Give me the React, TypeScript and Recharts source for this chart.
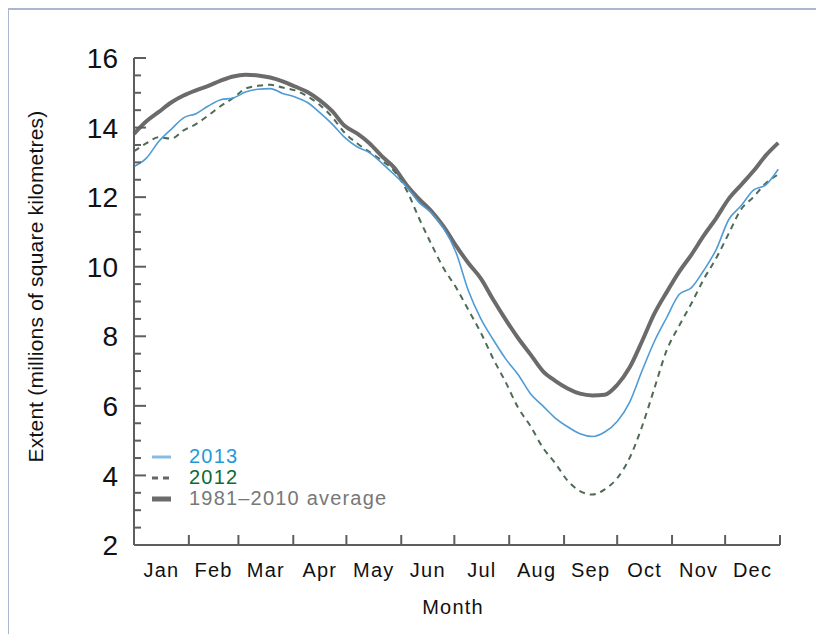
import React from 'react';
import { LineChart, Line, XAxis, YAxis, Legend, Label } from 'recharts';

const DAYS = [0, 7, 14, 21, 28, 35, 42, 49, 56, 63, 70, 77, 84, 91, 98, 105, 112, 119, 126, 133, 140, 147, 154, 161, 168, 175, 182, 189, 196, 203, 210, 217, 224, 231, 238, 245, 252, 259, 266, 273, 280, 287, 294, 301, 308, 315, 322, 329, 336, 343, 350, 357, 364];

const EXTENT_2013 = [
  12.88, 13.12, 13.6, 13.95, 14.28, 14.4, 14.62, 14.8, 14.85, 15.02,
  15.1, 15.12, 14.98, 14.88, 14.72, 14.43, 14.1, 13.72, 13.45, 13.28,
  12.98, 12.65, 12.3, 11.85, 11.55, 11.1, 10.4, 9.3, 8.5, 7.9,
  7.35, 6.9, 6.35, 6.0, 5.65, 5.4, 5.2, 5.12, 5.25, 5.55,
  6.1, 7.0, 7.85, 8.54, 9.2, 9.4, 9.9, 10.5, 11.35, 11.75,
  12.2, 12.35, 12.8,
];

const EXTENT_2012 = [
  13.32, 13.55, 13.72, 13.68, 13.92, 14.1, 14.35, 14.62, 14.85, 15.12,
  15.2, 15.23, 15.15, 15.07, 14.9, 14.65, 14.3, 13.85, 13.55, 13.3,
  13.05, 12.75, 12.2, 11.4, 10.65, 9.95, 9.4, 8.75, 8.1, 7.35,
  6.68, 5.95, 5.42, 4.8, 4.35, 3.85, 3.55, 3.45, 3.6, 3.92,
  4.5, 5.4, 6.5, 7.6, 8.3, 8.95, 9.65, 10.25, 10.95, 11.65,
  12.0, 12.4, 12.65,
];

const EXTENT_AVG = [
  13.82, 14.18, 14.45, 14.72, 14.92, 15.07, 15.2, 15.35, 15.47, 15.52,
  15.5, 15.44, 15.33, 15.18, 15.02, 14.78, 14.47, 14.05, 13.83, 13.55,
  13.18, 12.85, 12.35, 11.95, 11.6, 11.15, 10.6, 10.1, 9.66, 9.05,
  8.48, 7.95, 7.48, 7.0, 6.72, 6.5, 6.35, 6.3, 6.32, 6.6,
  7.1, 7.85, 8.65, 9.27, 9.85, 10.35, 10.9, 11.4, 11.95, 12.35,
  12.75, 13.2, 13.56,
];

const MONTHS = ['Jan', 'Feb', 'Mar', 'Apr', 'May', 'Jun', 'Jul', 'Aug', 'Sep', 'Oct', 'Nov', 'Dec'];
const MONTH_MID_DAYS = [15.5, 45, 74.5, 105, 135.5, 166, 196.5, 227.5, 258, 288.5, 319, 349.5];
const MONTH_START_DAYS = [0, 31, 59, 90, 120, 151, 181, 212, 243, 273, 304, 334, 365];

const Y_MAJOR = [2, 4, 6, 8, 10, 12, 14, 16];
const Y_MINOR = [2, 2.5, 3, 3.5, 4, 4.5, 5, 5.5, 6, 6.5, 7, 7.5, 8, 8.5, 9, 9.5, 10, 10.5, 11, 11.5, 12, 12.5, 13, 13.5, 14, 14.5, 15, 15.5, 16];

const SERIES_KEYS = ['y2013', 'y2012', 'avg'];
const SERIES_NAMES = ['2013', '2012', '1981–2010 average'];
const SERIES_COLORS = ['#4f9bd6', '#4d6b55', '#6b6b6b'];
const SERIES_WIDTHS = [1.6, 2, 4];
const SERIES_DASH = ['', '6 5', ''];
const LEGEND_TEXT_COLORS = ['#1f9ad7', '#0b6b34', '#777777'];
const LEGEND_SAMPLE_COLORS = ['#86bbe3', '#666666', '#6b6b6b'];
const LEGEND_SAMPLE_WIDTHS = [3, 3, 5];
const LEGEND_SAMPLE_DASH = ['', '6 5', ''];
const DRAW_ORDER = [2, 1, 0];

const data = DAYS.map((d, i) => ({
  day: d,
  y2013: EXTENT_2013[i],
  y2012: EXTENT_2012[i],
  avg: EXTENT_AVG[i],
}));

const FONT = '"Liberation Sans", Arial, Helvetica, sans-serif';
const AXIS_COLOR = '#5e5e5e';
const Y_TITLE = 'Extent (millions of square kilometres)';
const Y_TICK_MARGIN = 16;
const blankTick = () => '';

const YTick = (props: any) => {
  const { x, y, payload } = props;
  const v = payload.value;
  const isMajor = Y_MAJOR.indexOf(v) >= 0;
  const ax = x + Y_TICK_MARGIN;
  return (
    <g>
      <line x1={ax} y1={y} x2={ax + (isMajor ? 12 : 7)} y2={y} stroke={AXIS_COLOR} strokeWidth={2} />
      {isMajor && (
        <text x={x} y={y} dy="0.36em" textAnchor="end" fill="#111" fontSize={28} fontFamily={FONT}>
          {v}
        </text>
      )}
    </g>
  );
};

const renderLegend = () => (
  <div style={{ fontFamily: FONT, fontSize: 20, letterSpacing: 1.2, lineHeight: '21px' }}>
    {SERIES_NAMES.map((name, i) => (
      <div key={name} style={{ display: 'flex', alignItems: 'center', height: 21 }}>
        <svg width={19} height={8} style={{ display: 'block' }}>
          <line
            x1={0}
            y1={4}
            x2={19}
            y2={4}
            stroke={LEGEND_SAMPLE_COLORS[i]}
            strokeWidth={LEGEND_SAMPLE_WIDTHS[i]}
            strokeDasharray={LEGEND_SAMPLE_DASH[i] || undefined}
          />
        </svg>
        <span style={{ marginLeft: 18, color: LEGEND_TEXT_COLORS[i] }}>{name}</span>
      </div>
    ))}
  </div>
);

const renderYTitle = (props: any) => {
  const vb = props.viewBox || {};
  const cx = (vb.x || 0) + 27;
  const cy = (vb.y || 0) + (vb.height || 0) / 2 - 15;
  return (
    <text
      x={cx}
      y={cy}
      transform={`rotate(-90, ${cx}, ${cy})`}
      textAnchor="middle"
      dominantBaseline="central"
      style={{ fill: '#111', fontSize: 21, letterSpacing: 0.2, fontFamily: FONT }}
    >
      {Y_TITLE}
    </text>
  );
};

export default function App() {
  return (
    <div style={{ position: 'relative', width: 816, height: 626, fontFamily: FONT }}>
      <div
        style={{
          position: 'absolute',
          left: -1,
          top: 0,
          width: 818,
          height: 626,
          borderLeft: '2px solid #a9b8cf',
          borderTop: '2px solid #a9b8cf',
          boxSizing: 'border-box',
        }}
      />
      <LineChart width={816} height={626} data={data} margin={{ top: 50, right: 44, bottom: 0, left: 0 }}>
        <XAxis
          xAxisId="lx"
          dataKey="day"
          type="number"
          domain={[0, 365]}
          ticks={MONTH_MID_DAYS}
          interval={0}
          tickFormatter={(v: number) => MONTHS[MONTH_MID_DAYS.indexOf(v)]}
          tickLine={false}
          axisLine={false}
          tickSize={0}
          tickMargin={18}
          height={89}
          tick={{ fill: '#111', fontSize: 20, letterSpacing: 1.2, fontFamily: FONT }}
        >
          <Label
            value="Month"
            position="insideBottom"
            offset={20}
            dx={-4}
            style={{ fill: '#111', fontSize: 20, letterSpacing: 1.2, fontFamily: FONT }}
          />
        </XAxis>
        <XAxis
          xAxisId="tx"
          dataKey="day"
          type="number"
          domain={[0, 365]}
          ticks={MONTH_START_DAYS}
          interval={0}
          mirror
          height={1}
          tickFormatter={blankTick}
          tickSize={10}
          tickLine={{ stroke: AXIS_COLOR, strokeWidth: 2 }}
          axisLine={{ stroke: AXIS_COLOR, strokeWidth: 2 }}
        />
        <YAxis
          yAxisId="ly"
          type="number"
          domain={[2, 16]}
          ticks={Y_MINOR}
          interval={0}
          width={126}
          tickLine={false}
          axisLine={{ stroke: AXIS_COLOR, strokeWidth: 2 }}
          tickSize={0}
          tickMargin={Y_TICK_MARGIN}
          tick={<YTick />}
        >
          <Label content={renderYTitle} />
        </YAxis>
        <Legend
          layout="vertical"
          align="center"
          verticalAlign="middle"
          content={renderLegend}
          wrapperStyle={{ left: 144, top: 438, width: 320 }}
        />
        {DRAW_ORDER.map((i) => (
          <Line
            key={SERIES_KEYS[i]}
            xAxisId="tx"
            yAxisId="ly"
            type="monotone"
            dataKey={SERIES_KEYS[i]}
            name={SERIES_NAMES[i]}
            stroke={SERIES_COLORS[i]}
            strokeWidth={SERIES_WIDTHS[i]}
            strokeDasharray={SERIES_DASH[i] || undefined}
            dot={false}
            activeDot={false}
            isAnimationActive={false}
          />
        ))}
      </LineChart>
    </div>
  );
}
